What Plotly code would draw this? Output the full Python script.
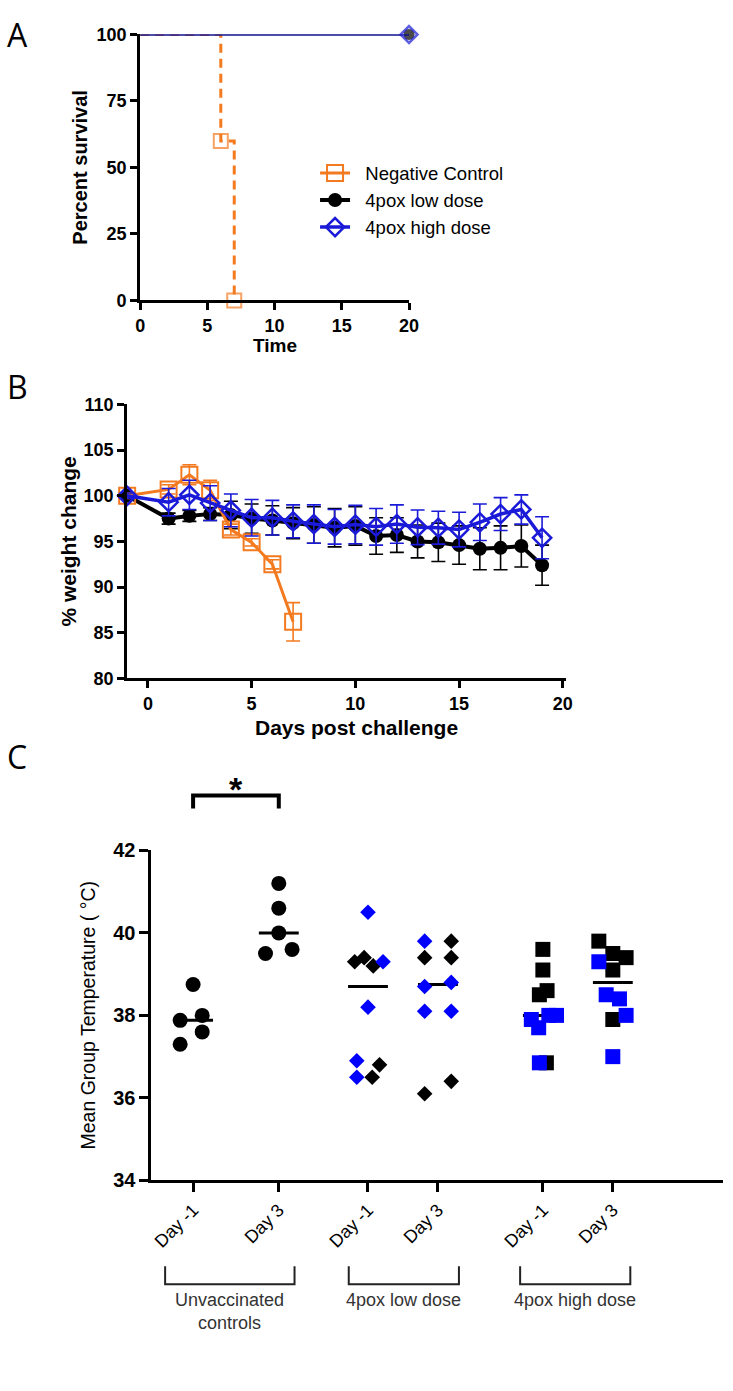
import statistics
import plotly.graph_objects as go

# ---------------- DATA ----------------
# Panel A: survival (Kaplan-Meier steps)
surv_neg_time = [0, 6, 7]
surv_neg = [100, 60, 0]
surv_low_time = [0, 20]
surv_low = [100, 100]
surv_high_time = [0, 20]
surv_high = [100, 100]

# Panel B: % weight change
neg_days = [-1, 1, 2, 3, 4, 5, 6, 7]
neg_w = [100, 100.7, 102.3, 100.6, 96.3, 94.9, 92.5, 86.2]
neg_err = [0.3, 0.5, 1.1, 1.1, 0.6, 0.4, 0.5, 2.1]

vac_days = [-1, 1, 2, 3, 4, 5, 6, 7, 8, 9, 10, 11, 12, 13, 14, 15, 16, 17, 18, 19]
low_w = [100, 97.5, 97.8, 98.0, 97.9, 97.5, 97.3, 97.0, 96.8, 96.5, 96.7, 95.6, 95.7, 95.0,
         94.9, 94.6, 94.2, 94.3, 94.5, 92.4]
low_err = [0.3, 0.6, 0.6, 0.7, 1.5, 1.6, 1.6, 1.7, 2.0, 2.1, 2.1, 2.0, 1.9, 1.8, 2.1, 2.1,
           2.3, 2.4, 2.3, 2.2]
high_w = [100, 99.3, 100.1, 99.2, 98.4, 97.6, 97.6, 97.2, 96.9, 96.6, 96.85, 96.6, 96.9,
          96.55, 96.5, 96.3, 97.1, 98.0, 98.5, 95.4]
high_err = [0.3, 1.5, 1.6, 1.9, 1.8, 2.0, 1.9, 1.8, 2.1, 1.9, 2.1, 2.0, 2.1, 1.9, 1.8, 1.9,
            2.0, 1.8, 1.6, 2.3]

# Panel C: mean group temperature
cat_labels = ["Day -1", "Day 3", "Day -1", "Day 3", "Day -1", "Day 3"]
group_labels = ["Unvaccinated<br>controls", "4pox low dose", "4pox high dose"]

unvacc_dm1 = [38.75, 37.88, 38.0, 37.6, 37.3]
unvacc_d3 = [41.2, 40.6, 40.0, 39.5, 39.6]
low_dm1_blue = [40.5, 39.3, 38.2, 36.9, 36.5]
low_dm1_black = [39.3, 39.4, 39.2, 36.5, 36.8]
low_d3_blue = [39.8, 38.7, 38.8, 38.1, 38.1]
low_d3_black = [39.8, 39.4, 39.4, 36.1, 36.4]
high_dm1_blue = [37.9, 37.7, 38.0, 38.0, 36.85]
high_dm1_black = [39.6, 39.1, 38.5, 38.6, 36.85]
high_d3_blue = [39.3, 38.5, 38.4, 38.0, 37.0]
high_d3_black = [39.8, 39.5, 39.4, 39.1, 37.9]

# ---------------- LAYOUT / STYLE ----------------
W, H = 733, 1391
ORANGE = "#F47A20"
BLUE_LINE = "#1A1AD8"
BLUE = "#0000FF"
BLACK = "#000000"
FONT = "Liberation Sans"

# horizontal jitter of the dots (category units)
jit_unvacc_dm1 = [0, -0.37, 0.26, 0.26, -0.37]
jit_unvacc_d3 = [0, 0, 0, -0.38, 0.38]
jit_low_dm1_blue = [0, 0.43, 0, -0.32, -0.32]
jit_low_dm1_black = [-0.38, -0.11, 0.15, 0.12, 0.33]
jit_low_d3_blue = [-0.38, -0.38, 0.38, -0.38, 0.38]
jit_low_d3_black = [0.38, -0.38, 0.38, -0.38, 0.38]
jit_high_dm1_blue = [-0.33, -0.12, 0.17, 0.39, -0.1]
jit_high_dm1_black = [0, 0, -0.1, 0.12, 0.1]
jit_high_d3_blue = [-0.4, -0.19, 0.19, 0.38, 0]
jit_high_d3_black = [-0.4, 0, 0.38, 0, 0]

cat_pos = [1, 3.45, 6, 8, 11, 13]
bracket_pad_left = [0.8, 0.55, 0.65]
bracket_pad_right = [0.45, 0.6, 0.5]


def tx(p):
    """reference-pixel x -> paper x (calibrated)"""
    return min(max(((p - 3.8) / 0.98) / W, 0.0), 1.0)


def ty(p):
    """reference-pixel y -> paper y (calibrated)"""
    return min(max(1 - ((p - 10.5) / 0.9843) / H, 0.0), 1.0)


fig = go.Figure()

# ---------- Panel A ----------
fig.add_trace(go.Scatter(
    x=surv_neg_time, y=surv_neg, mode="lines+markers",
    line=dict(color=ORANGE, width=3, dash="9px,6px", shape="hv"),
    marker=dict(symbol="square-open", size=[0, 14, 14], color=ORANGE, line=dict(width=2)),
    xaxis="x", yaxis="y", showlegend=False, cliponaxis=False))
fig.add_trace(go.Scatter(
    x=surv_low_time, y=surv_low, mode="lines+markers", line=dict(color=BLACK, width=2),
    marker=dict(symbol="circle", size=[0, 12], color=BLACK), xaxis="x", yaxis="y",
    showlegend=False, cliponaxis=False))
fig.add_trace(go.Scatter(
    x=surv_high_time, y=surv_high, mode="lines+markers", line=dict(color=BLUE_LINE, width=2),
    marker=dict(symbol="diamond-open", size=[0, 13], color=BLUE_LINE, line=dict(width=2.5)),
    xaxis="x", yaxis="y", showlegend=False, cliponaxis=False))

# ---------- Panel B ----------
NB = "\u00a0\u00a0"
fig.add_trace(go.Scatter(
    x=vac_days, y=low_w, mode="lines+markers", name=NB + "4pox low dose",
    line=dict(color=BLACK, width=4),
    marker=dict(symbol="circle", size=14, color=BLACK),
    error_y=dict(type="data", array=low_err, color=BLACK, thickness=1.6, width=7),
    xaxis="x2", yaxis="y2", legendrank=2, cliponaxis=False))
fig.add_trace(go.Scatter(
    x=neg_days, y=neg_w, mode="lines+markers", name=NB + "Negative Control",
    line=dict(color=ORANGE, width=3),
    marker=dict(symbol="square-open", size=16, color=ORANGE, line=dict(width=2)),
    error_y=dict(type="data", array=neg_err, color=ORANGE, thickness=1.6, width=7),
    xaxis="x2", yaxis="y2", legendrank=1, cliponaxis=False))
fig.add_trace(go.Scatter(
    x=vac_days, y=high_w, mode="lines+markers", name=NB + "4pox high dose",
    line=dict(color=BLUE_LINE, width=3.5),
    marker=dict(symbol="diamond-open", size=14, color=BLUE_LINE, line=dict(width=2.5)),
    error_y=dict(type="data", array=high_err, color=BLUE_LINE, thickness=1.6, width=7),
    xaxis="x2", yaxis="y2", legendrank=3, cliponaxis=False))

# ---------- Panel C ----------
groups = [
    (cat_pos[0], [(unvacc_dm1, jit_unvacc_dm1, BLACK)], "circle", 15),
    (cat_pos[1], [(unvacc_d3, jit_unvacc_d3, BLACK)], "circle", 15),
    (cat_pos[2], [(low_dm1_black, jit_low_dm1_black, BLACK), (low_dm1_blue, jit_low_dm1_blue, BLUE)], "diamond", 12),
    (cat_pos[3], [(low_d3_black, jit_low_d3_black, BLACK), (low_d3_blue, jit_low_d3_blue, BLUE)], "diamond", 12),
    (cat_pos[4], [(high_dm1_black, jit_high_dm1_black, BLACK), (high_dm1_blue, jit_high_dm1_blue, BLUE)], "square", 15),
    (cat_pos[5], [(high_d3_black, jit_high_d3_black, BLACK), (high_d3_blue, jit_high_d3_blue, BLUE)], "square", 15),
]
# median lines first (below dots)
for pos, series, sym, size in groups:
    allv = [v for vals, _, _ in series for v in vals]
    med = statistics.median(allv)
    fig.add_trace(go.Scatter(
        x=[pos - 0.57, pos + 0.57], y=[med, med], mode="lines",
        line=dict(color=BLACK, width=3), xaxis="x3", yaxis="y3", showlegend=False,
        hoverinfo="skip"))
for pos, series, sym, size in groups:
    for vals, jit, col in series:
        fig.add_trace(go.Scatter(
            x=[pos + j for j in jit], y=vals, mode="markers",
            marker=dict(symbol=sym, size=size, color=col, line=dict(width=0)),
            xaxis="x3", yaxis="y3", showlegend=False, cliponaxis=False))

axis_common = dict(showline=True, linecolor=BLACK, ticks="outside", tickcolor=BLACK,
                   showgrid=False, zeroline=False, fixedrange=True)
bold18 = dict(family=FONT, size=18, color=BLACK, weight="bold")

shapes = []
annotations = []

# significance bracket
shapes.append(dict(type="path", xref="x3", yref="paper",
                   path=f"M {cat_pos[0]},{ty(808)} L {cat_pos[0]},{ty(795)} L {cat_pos[1]},{ty(795)} L {cat_pos[1]},{ty(808)}",
                   line=dict(color=BLACK, width=4)))
annotations.append(dict(text="*", x=(cat_pos[0] + cat_pos[1]) / 2, xref="x3", y=ty(789), yref="paper",
                        showarrow=False, font=dict(family=FONT, size=34, color=BLACK, weight="bold"),
                        xanchor="center", yanchor="middle"))

# group brackets under the x axis
for gi in range(3):
    x1 = cat_pos[2 * gi] - bracket_pad_left[gi]
    x2 = cat_pos[2 * gi + 1] + bracket_pad_right[gi]
    shapes.append(dict(type="path", xref="x3", yref="paper",
                       path=f"M {x1},{ty(1266)} L {x1},{ty(1284)} L {x2},{ty(1284)} L {x2},{ty(1266)}",
                       line=dict(color="#222222", width=2)))
    annotations.append(dict(text=group_labels[gi], x=(x1 + x2) / 2, xref="x3", y=ty(1288), yref="paper",
                            showarrow=False, xanchor="center", yanchor="top", align="center",
                            font=dict(family=FONT, size=18, color="#333333")))

# panel letters
annotations.append(dict(text="A", x=0, y=1.0, xref="paper", yref="paper",
                        showarrow=False, xanchor="left", yanchor="top",
                        font=dict(family="Open Sans", size=32, color=BLACK)))
for letter, ypx in (("B", 386), ("C", 756)):
    annotations.append(dict(text=letter, x=0, y=ty(ypx), xref="paper", yref="paper",
                            showarrow=False, xanchor="left", yanchor="middle",
                            font=dict(family="Open Sans", size=32, color=BLACK)))

# axis titles
title_specs = [
    ("Percent survival", 79, 167, -90, 20, "bold"),
    ("Time", 274, 345, 0, 19, "bold"),
    ("% weight change", 67, 541, -90, 21, "bold"),
    ("Days post challenge", 355, 727, 0, 21, "bold"),
    ("Mean Group Temperature ( °C)", 87, 1015, -90, 19.5, "normal"),
]
for txt, xp, yp, ang, fs, wt in title_specs:
    annotations.append(dict(text=txt, x=tx(xp), y=ty(yp), xref="paper", yref="paper",
                            showarrow=False, xanchor="center", yanchor="middle", textangle=ang,
                            font=dict(family=FONT, size=fs, color=BLACK, weight=wt)))

fig.update_layout(
    width=W, height=H, margin=dict(l=0, r=0, t=0, b=0),
    paper_bgcolor="white", plot_bgcolor="white",
    showlegend=True,
    legend=dict(x=tx(314), y=ty(154), xanchor="left", yanchor="top",
                font=dict(family=FONT, size=18.5, color=BLACK), bgcolor="rgba(0,0,0,0)",
                tracegroupgap=0, itemwidth=30),
    xaxis=dict(domain=[tx(139), tx(408)], range=[0, 20], anchor="y",
               tickvals=[0, 5, 10, 15, 20], linewidth=3, tickwidth=3, ticklen=7,
               tickfont=bold18, **axis_common),
    yaxis=dict(domain=[ty(300), ty(34)], range=[0, 100], anchor="x",
               tickvals=[0, 25, 50, 75, 100], linewidth=3, tickwidth=3, ticklen=7,
               tickfont=bold18, **axis_common),
    xaxis2=dict(domain=[tx(126), tx(565)], range=[-1, 20.15], anchor="y2",
                tickvals=[0, 5, 10, 15, 20], linewidth=3, tickwidth=3, ticklen=7,
                tickfont=bold18, **axis_common),
    yaxis2=dict(domain=[ty(678), ty(404)], range=[80, 110], anchor="x2",
                tickvals=[80, 85, 90, 95, 100, 105, 110], linewidth=3, tickwidth=3, ticklen=7,
                tickfont=bold18, **axis_common),
    xaxis3=dict(domain=[tx(150), 1.0], range=[-0.2, 16.15], anchor="y3",
                tickvals=cat_pos, ticktext=cat_labels, tickangle=-45, linewidth=3, tickwidth=2.5,
                ticklen=9, tickfont=dict(family=FONT, size=18, color=BLACK), **axis_common),
    yaxis3=dict(domain=[ty(1180), ty(850)], range=[34, 42], anchor="x3",
                tickvals=[34, 36, 38, 40, 42], linewidth=2.5, tickwidth=2.5, ticklen=9,
                tickfont=dict(family=FONT, size=20, color=BLACK, weight="bold"), **axis_common),
    shapes=shapes, annotations=annotations,
)

fig.write_html("out.html", config={"displayModeBar": False},
               post_script="document.body.style.margin='0px';document.documentElement.style.overflow='hidden';")
